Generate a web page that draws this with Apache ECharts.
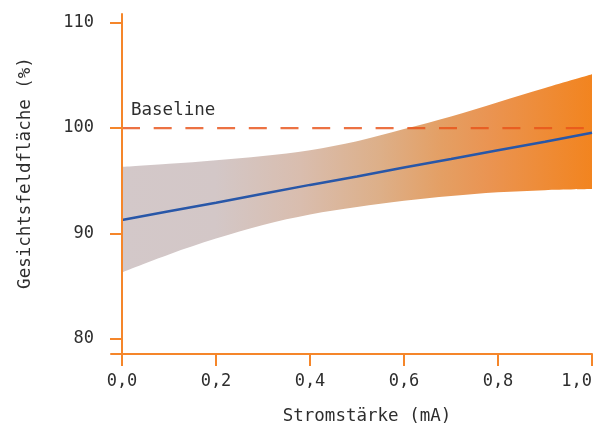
<!DOCTYPE html>
<html>
<head>
<meta charset="utf-8">
<script src="https://cdn.jsdelivr.net/npm/echarts@6/dist/echarts.min.js"></script>
<style>
html,body{margin:0;padding:0;background:#fff;}
#chart{width:596px;height:427px;}
</style>
</head>
<body>
<div id="chart"></div>
<script>
const xValues = [0, 0.1, 0.2, 0.3, 0.4, 0.5, 0.6, 0.7, 0.8, 0.9, 1.0];
const meanValues = [91.26, 92.1, 92.9, 93.75, 94.6, 95.4, 96.25, 97.05, 97.9, 98.7, 99.55];
const upperValues = [96.3, 96.6, 96.95, 97.35, 97.9, 98.75, 99.9, 101.1, 102.45, 103.8, 105.1];
const lowerValues = [86.3, 88.0, 89.5, 90.8, 91.8, 92.5, 93.1, 93.55, 93.9, 94.1, 94.2];
const baselineValue = 100;
const xTicks = [0, 0.2, 0.4, 0.6, 0.8, 1.0];
const yTicks = [80, 90, 100, 110];
const xTitle = 'Stromstärke (mA)';
const yTitle = 'Gesichtsfeldfläche (%)';
const baselineLabel = 'Baseline';
const bandLabel = '95% Konfidenzband';

const FONT = 'DejaVu Sans Mono';
const AXIS = '#f5862a';
const TEXT = '#2e2e2e';

const chart = echarts.init(document.getElementById('chart'), null, {renderer: 'canvas'});
const fmt = v => v.toFixed(1).replace('.', ',');

const option = {
  animation: false,
  backgroundColor: '#fff',
  grid: {left: 111, right: 4, top: 14, bottom: 73, containLabel: false, outerBoundsMode: 'none'},
  xAxis: {
    type: 'value', min: -0.0234, max: 1.0, z: 10,
    splitLine: {show: false},
    axisLine: {lineStyle: {color: AXIS, width: 2}},
    axisTick: {show: true, length: 12, lineStyle: {color: AXIS, width: 2}, customValues: xTicks},
    axisLabel: {customValues: xTicks, formatter: fmt, margin: 19, color: TEXT, fontFamily: FONT, fontSize: 17, alignMaxLabel: 'right'}
  },
  yAxis: {
    type: 'value', min: 78.54, max: 110.83, z: 10,
    splitLine: {show: false},
    axisLine: {onZero: true, lineStyle: {color: AXIS, width: 2}},
    axisTick: {show: true, length: 12, lineStyle: {color: AXIS, width: 2}, customValues: yTicks},
    axisLabel: {customValues: yTicks, formatter: v => String(v), margin: 17, color: TEXT, fontFamily: FONT, fontSize: 17}
  },
  series: [
    {
      type: 'line', name: 'upper', smooth: 0.35, symbol: 'none',
      data: xValues.map((x, i) => [x, upperValues[i]]),
      lineStyle: {width: 0},
      areaStyle: {
        origin: 'start',
        opacity: 1,
        color: new echarts.graphic.LinearGradient(0, 0, 1, 0, [
          {offset: 0, color: '#d3c8c9'},
          {offset: 0.2, color: '#d3c7c7'},
          {offset: 0.38, color: '#d9bdae'},
          {offset: 0.55, color: '#ddaf88'},
          {offset: 0.68, color: '#e49f64'},
          {offset: 0.78, color: '#ea9452'},
          {offset: 1, color: '#f2841f'}
        ])
      },
      z: 1
    },
    {
      type: 'line', name: 'lower', smooth: 0.35, symbol: 'none',
      data: xValues.map((x, i) => [x, lowerValues[i]]),
      lineStyle: {width: 0},
      areaStyle: {origin: 'start', opacity: 1, color: '#ffffff'},
      z: 2
    },
    {
      type: 'line', name: 'baseline', symbol: 'none',
      data: [[0, baselineValue], [1, baselineValue]],
      lineStyle: {color: '#e8531a', opacity: 0.82, width: 2.2, type: [18, 13.7]},
      z: 3
    },
    {
      type: 'line', name: 'mean', symbol: 'none',
      data: xValues.map((x, i) => [x, meanValues[i]]),
      lineStyle: {color: '#2857a8', width: 2.5},
      z: 4
    }
  ],
  graphic: [
    {type: 'text', x: 131, y: 110, style: {text: baselineLabel, font: '17.5px "DejaVu Sans Mono"', fill: TEXT, align: 'left', verticalAlign: 'middle'}},
    {type: 'text', x: 411, y: 264, style: {text: bandLabel, font: '17.5px "DejaVu Sans Mono"', fill: TEXT, align: 'left', verticalAlign: 'middle'}},
    {type: 'text', x: 367, y: 416, style: {text: xTitle, font: '17.5px "DejaVu Sans Mono"', fill: TEXT, align: 'center', verticalAlign: 'middle'}},
    {type: 'text', x: 25, y: 173, rotation: Math.PI / 2, style: {text: yTitle, font: '17.5px "DejaVu Sans Mono"', fill: TEXT, align: 'center', verticalAlign: 'middle'}}
  ]
};
chart.setOption(option);
</script>
</body>
</html>
